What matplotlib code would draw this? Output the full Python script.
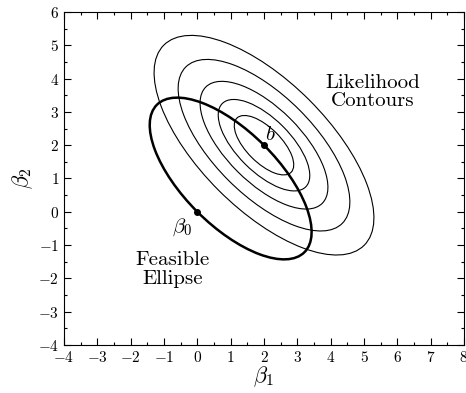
import matplotlib
matplotlib.use("Agg")
import matplotlib.pyplot as plt
from matplotlib.patches import Ellipse
from matplotlib.ticker import MultipleLocator

plt.rcParams["font.family"] = "serif"
plt.rcParams["font.serif"] = ["cmr10"]
plt.rcParams["mathtext.fontset"] = "cm"
plt.rcParams["axes.formatter.use_mathtext"] = True
plt.rcParams["axes.unicode_minus"] = True

# data
b_point = (2.0, 2.0)
beta0_point = (0.0, 0.0)
feasible_center = (1.0, 1.0)
feasible_axes = (3.13, 1.414)      # semi-axes along (1,-1) and (1,1)
contour_major = [4.25, 3.32, 2.47, 1.77, 1.15]
contour_minor = [1.92, 1.50, 1.12, 0.80, 0.52]
tilt = -45

fig = plt.figure(figsize=(4.66, 3.93), dpi=100)
ax = fig.add_axes([64 / 466, 48 / 393, 400 / 466, 333 / 393])

# likelihood contours around b
for a, c in zip(contour_major, contour_minor):
    ax.add_patch(Ellipse(b_point, 2 * a, 2 * c, angle=tilt,
                         fill=False, color="black", lw=0.8))

# feasible ellipse
ax.add_patch(Ellipse(feasible_center, 2 * feasible_axes[0], 2 * feasible_axes[1],
                     angle=tilt, fill=False, color="black", lw=1.8))

ax.plot(*b_point, "o", color="black", ms=4)
ax.plot(*beta0_point, "o", color="black", ms=4)

ax.text(2.2, 2.3, r"$b$", fontsize=15, ha="center", va="center")
ax.text(-0.45, -0.45, r"$\beta_0$", fontsize=15, ha="center", va="center")
ax.text(5.27, 3.6, "Likelihood\nContours", fontsize=15, ha="center",
        va="center", linespacing=1.05)
ax.text(-0.75, -1.74, "Feasible\nEllipse", fontsize=15, ha="center",
        va="center", linespacing=1.05)

ax.set_xlim(-4, 8)
ax.set_ylim(-4, 6)
ax.xaxis.set_major_locator(MultipleLocator(1))
ax.yaxis.set_major_locator(MultipleLocator(1))
ax.xaxis.set_minor_locator(MultipleLocator(0.5))
ax.yaxis.set_minor_locator(MultipleLocator(0.5))
ax.tick_params(which="both", direction="in", top=True, right=True, labelsize=11)
ax.tick_params(which="major", length=5, width=0.8)
ax.tick_params(which="minor", length=2.5, width=0.8)
for s in ax.spines.values():
    s.set_linewidth(0.8)

ax.set_xlabel(r"$\beta_1$", fontsize=16, labelpad=0)
ax.set_ylabel(r"$\beta_2$", fontsize=16, labelpad=2)

fig.savefig("out.png", dpi=100)
